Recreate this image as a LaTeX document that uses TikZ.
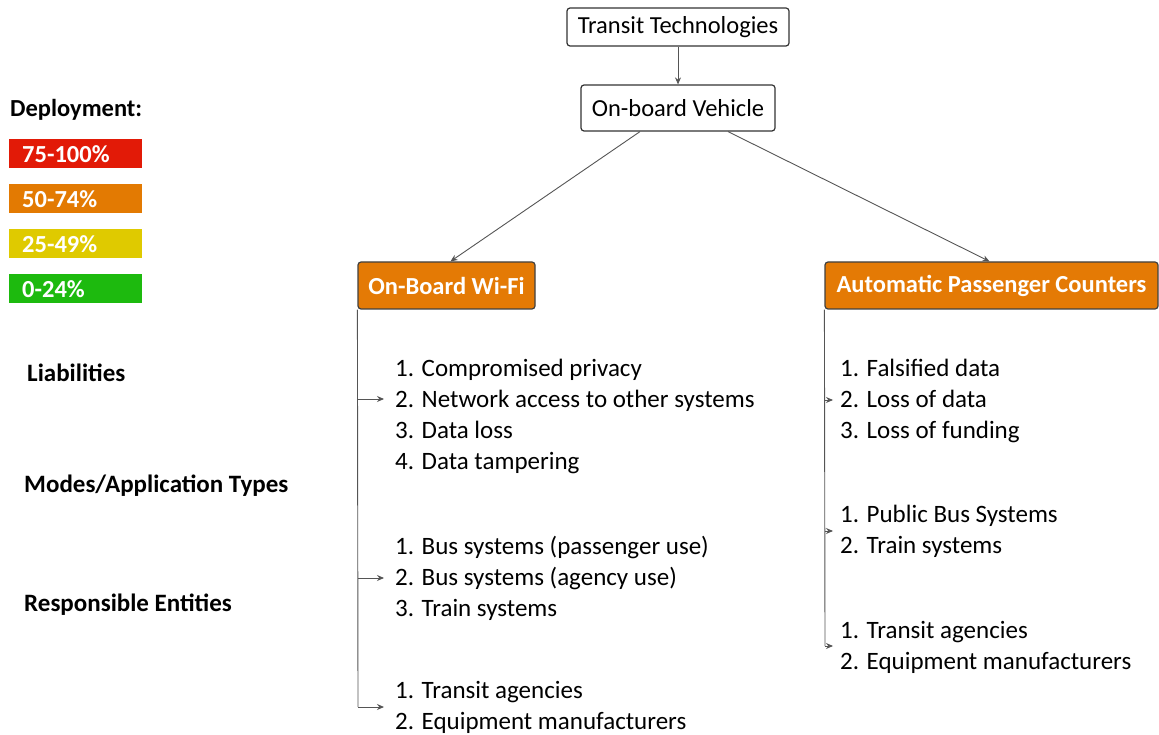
\documentclass[tikz,border=0pt]{standalone}
\usepackage{fontspec}
\setmainfont{Carlito}
\usetikzlibrary{arrows.meta,calc}
\definecolor{lgray}{HTML}{555555}
\definecolor{dred}{HTML}{E21A07}
\definecolor{dorange}{HTML}{E37A02}
\definecolor{dyellow}{HTML}{DFCA00}
\definecolor{dgreen}{HTML}{1DBA0E}
\definecolor{boxorange}{HTML}{E47A05}
\begin{document}
\begin{tikzpicture}[x=1pt,y=-1pt,
  wbox/.style={draw=black!80,line width=1.2pt,rounded corners=3pt,fill=white,inner sep=0pt,font=\fontsize{24.5}{28}\selectfont},
  obox/.style={draw=black!75,line width=1.2pt,rounded corners=3pt,fill=boxorange,text=white,inner sep=0pt,font=\fontsize{24.5}{28}\selectfont\bfseries},
  legbox/.style={fill=#1,text=white,minimum width=133pt,minimum height=29pt,inner sep=0pt,anchor=north west,text width=107pt,align=left,font=\fontsize{24.5}{26}\selectfont\bfseries},
  listtxt/.style={anchor=north west,align=left,inner sep=0pt,font=\fontsize{25}{31}\selectfont},
  side/.style={anchor=west,inner sep=0pt,font=\fontsize{25}{27}\selectfont\bfseries},
  arr/.style={draw=lgray,line width=0.9pt,-{Stealth[length=7pt,width=6pt]}},
  ln/.style={draw=lgray,line width=0.9pt}]
\useasboundingbox (0,0) rectangle (1159,735);

% top nodes
\node[wbox,minimum width=222pt,minimum height=38pt] (tt) at (678,27) {Transit Technologies};
\node[wbox,minimum width=194pt,minimum height=46pt] (ov) at (678,108) {On-board Vehicle};
\node[obox,minimum width=177pt,minimum height=47pt] (obw) at (446.5,285.5) {On-Board Wi-Fi};
\node[obox,minimum width=333pt,minimum height=47pt] (apc) at (991.5,285.5) {Automatic Passenger Counters};

\draw[arr] (tt.south) -- (ov.north);
\draw[arr] ($(ov.south)+(-38,0)$) -- ($(obw.north)+(4,0)$);
\draw[arr] ($(ov.south)+(50,0)$) -- ($(apc.north)+(-2,0)$);

% legend
\node[anchor=west,inner sep=0pt,font=\fontsize{24.5}{26}\selectfont\bfseries] (dep) at (10,110) {Deployment:};
\node[legbox=dred] (l1) at (9,139) {75-100\%};
\node[legbox=dorange] (l2) at (9,184) {50-74\%};
\node[legbox=dyellow] (l3) at (9,229) {25-49\%};
\node[legbox=dgreen] (l4) at (9,274) {0-24\%};

% side labels
\node[side] (sl1) at (27,373) {Liabilities};
\node[side] (sl2) at (24,486) {Modes/Application Types};
\node[side] (sl3) at (24,605) {Responsible Entities};

% Wi-Fi lists
\node[listtxt] (w1) at (395,359) {1.\hspace{0.3em}Compromised privacy\\2.\hspace{0.3em}Network access to other systems\\3.\hspace{0.3em}Data loss\\4.\hspace{0.3em}Data tampering};
\node[listtxt] (w2) at (395,536) {1.\hspace{0.3em}Bus systems (passenger use)\\2.\hspace{0.3em}Bus systems (agency use)\\3.\hspace{0.3em}Train systems};
\node[listtxt] (w3) at (395,681) {1.\hspace{0.3em}Transit agencies\\2.\hspace{0.3em}Equipment manufacturers};

\coordinate (wb1) at (358,399);
\coordinate (wb2) at (358,578);
\coordinate (wb3) at (358,707);
\coordinate (we1) at (384,399);
\coordinate (we2) at (384,578);
\coordinate (we3) at (384,707);
\draw[ln] (obw.south west) -- (wb3);
\draw[arr] (wb1) -- (we1);
\draw[arr] (wb2) -- (we2);
\draw[arr] (wb3) -- (we3);

% APC lists
\node[listtxt] (a1) at (840,359) {1.\hspace{0.3em}Falsified data\\2.\hspace{0.3em}Loss of data\\3.\hspace{0.3em}Loss of funding};
\node[listtxt] (a2) at (840,505) {1.\hspace{0.3em}Public Bus Systems\\2.\hspace{0.3em}Train systems};
\node[listtxt] (a3) at (840,621) {1.\hspace{0.3em}Transit agencies\\2.\hspace{0.3em}Equipment manufacturers};

\coordinate (ab1) at (825,400);
\coordinate (ab2) at (825,531);
\coordinate (ab3) at (825,646);
\coordinate (ae1) at (833,400);
\coordinate (ae2) at (833,531);
\coordinate (ae3) at (833,646);
\draw[ln] (apc.south west) -- (ab3);
\draw[arr] (ab1) -- (ae1);
\draw[arr] (ab2) -- (ae2);
\draw[arr] (ab3) -- (ae3);
\end{tikzpicture}
\end{document}
